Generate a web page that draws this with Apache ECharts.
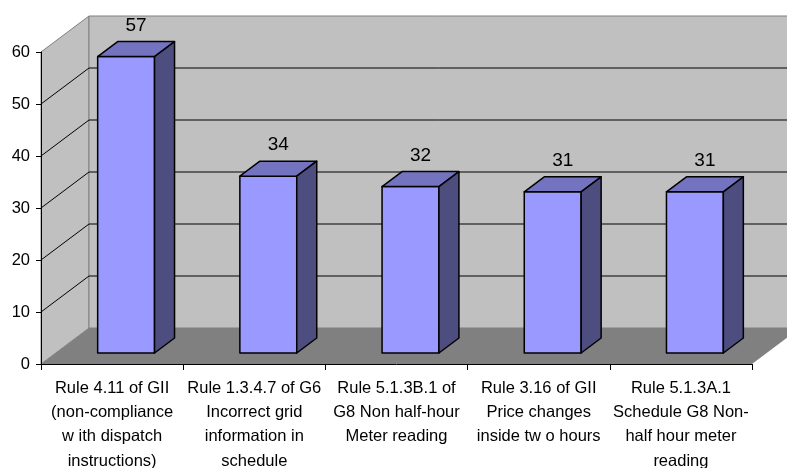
<!DOCTYPE html>
<html>
<head>
<meta charset="utf-8">
<script src="https://cdn.jsdelivr.net/npm/echarts@6/dist/echarts.min.js"></script>
<style>
  html, body { margin: 0; padding: 0; background: #fff; }
  #chart { width: 787px; height: 468px; }
</style>
</head>
<body>
<div id="chart"></div>
<script>
// Breaches by rule
const categories = [
  'Rule 4.11 of GII\n(non-compliance\nw ith dispatch\ninstructions)',
  'Rule 1.3.4.7 of G6\nIncorrect grid\ninformation in\nschedule',
  'Rule 5.1.3B.1 of\nG8 Non half-hour\nMeter reading',
  'Rule 3.16 of GII\nPrice changes\ninside tw o hours',
  'Rule 5.1.3A.1\nSchedule G8 Non-\nhalf hour meter\nreading'
];
const counts = [57, 34, 32, 31, 31];
const yTicks = [0, 10, 20, 30, 40, 50, 60];

// Pseudo-3D geometry (pixels)
const WALL_DX = 48, WALL_DY = -36;   // depth of the chart box
const BAR_OFF_X = 14, BAR_OFF_Y = -11; // bar front face set back into the box
const BAR_DX = 20, BAR_DY = -15;     // depth of each bar
const BAR_FRAC = 0.4;                // bar width as share of category band
const FONT = '"Liberation Sans", Arial, sans-serif';

function renderFrame(params, api) {
  const cs = params.coordSys;
  const L = cs.x, R = cs.x + cs.width, T = cs.y, B = cs.y + cs.height;
  const children = [];
  // floor
  children.push({ type: 'polygon', shape: { points: [[L, B], [R, B], [R + WALL_DX, B + WALL_DY], [L + WALL_DX, B + WALL_DY]] },
    style: { fill: '#808080', stroke: null } });
  // left side wall
  children.push({ type: 'polygon', shape: { points: [[L, T], [L + WALL_DX, T + WALL_DY], [L + WALL_DX, B + WALL_DY], [L, B]] },
    style: { fill: '#c0c0c0', stroke: '#808080', lineWidth: 1 } });
  // back wall
  children.push({ type: 'polygon', shape: { points: [[L + WALL_DX, T + WALL_DY], [R + WALL_DX, T + WALL_DY], [R + WALL_DX, B + WALL_DY], [L + WALL_DX, B + WALL_DY]] },
    style: { fill: '#c0c0c0', stroke: '#808080', lineWidth: 1 } });
  // gridlines across side wall and back wall
  yTicks.forEach(function (t, k) {
    if (k === 0 || k === yTicks.length - 1) return;
    const y = api.coord([0, t])[1];
    children.push({ type: 'polyline', shape: { points: [[L, y], [L + WALL_DX, y + WALL_DY], [R + WALL_DX, y + WALL_DY]] },
      style: { stroke: '#000', lineWidth: 1, fill: null } });
  });
  return { type: 'group', children: children };
}

function renderBar(params, api) {
  const i = api.value(0);
  const v = api.value(1);
  const top = api.coord([i, v]);
  const base = api.coord([i, 0]);
  const bw = api.size([1, 0])[0] * BAR_FRAC;
  const x0 = top[0] - bw / 2 + BAR_OFF_X;
  const x1 = x0 + bw;
  const yt = top[1] + BAR_OFF_Y;
  const yb = base[1] + BAR_OFF_Y;
  const edge = { stroke: '#000', lineWidth: 1.5, lineJoin: 'round' };
  return {
    type: 'group',
    children: [
      { type: 'polygon', shape: { points: [[x0, yt], [x1, yt], [x1, yb], [x0, yb]] },
        style: Object.assign({ fill: '#9999ff' }, edge) },
      { type: 'polygon', shape: { points: [[x0, yt], [x1, yt], [x1 + BAR_DX, yt + BAR_DY], [x0 + BAR_DX, yt + BAR_DY]] },
        style: Object.assign({ fill: '#7373c0' }, edge) },
      { type: 'polygon', shape: { points: [[x1, yt], [x1 + BAR_DX, yt + BAR_DY], [x1 + BAR_DX, yb + BAR_DY], [x1, yb]] },
        style: Object.assign({ fill: '#4d4d80' }, edge) },
      { type: 'text', style: { text: String(v), x: (x0 + x1) / 2 + BAR_DX / 2, y: yt + BAR_DY - 16,
        align: 'center', verticalAlign: 'middle', fontSize: 19, fontFamily: FONT, fill: '#000' } }
    ]
  };
}

const chart = echarts.init(document.getElementById('chart'), null, { renderer: 'canvas' });
chart.setOption({
  animation: false,
  backgroundColor: '#ffffff',
  grid: { left: 41, right: 35, top: 52, bottom: 104, containLabel: false, outerBoundsMode: 'none' },
  xAxis: {
    type: 'category',
    data: categories,
    z: 10,
    axisLine: { show: true, lineStyle: { color: '#000', width: 1 } },
    axisTick: { show: true, length: 6, interval: 0, lineStyle: { color: '#000' } },
    axisLabel: { interval: 0, margin: 12, fontSize: 16.5, lineHeight: 24.3, color: '#000', fontFamily: FONT },
    splitLine: { show: false }
  },
  yAxis: {
    type: 'value',
    min: 0, max: 60, interval: 10,
    z: 10,
    axisLine: { show: true, lineStyle: { color: '#000', width: 1 } },
    axisTick: { show: true, length: 5, lineStyle: { color: '#000' } },
    axisLabel: { margin: 11, fontSize: 16.5, color: '#000', fontFamily: FONT },
    splitLine: { show: false }
  },
  series: [
    { type: 'custom', name: 'frame', z: 1, silent: true, renderItem: renderFrame, data: [[0, 0]] },
    { type: 'custom', name: 'count', z: 3, renderItem: renderBar,
      data: counts.map(function (c, i) { return [i, c]; }) }
  ]
});
</script>
</body>
</html>
